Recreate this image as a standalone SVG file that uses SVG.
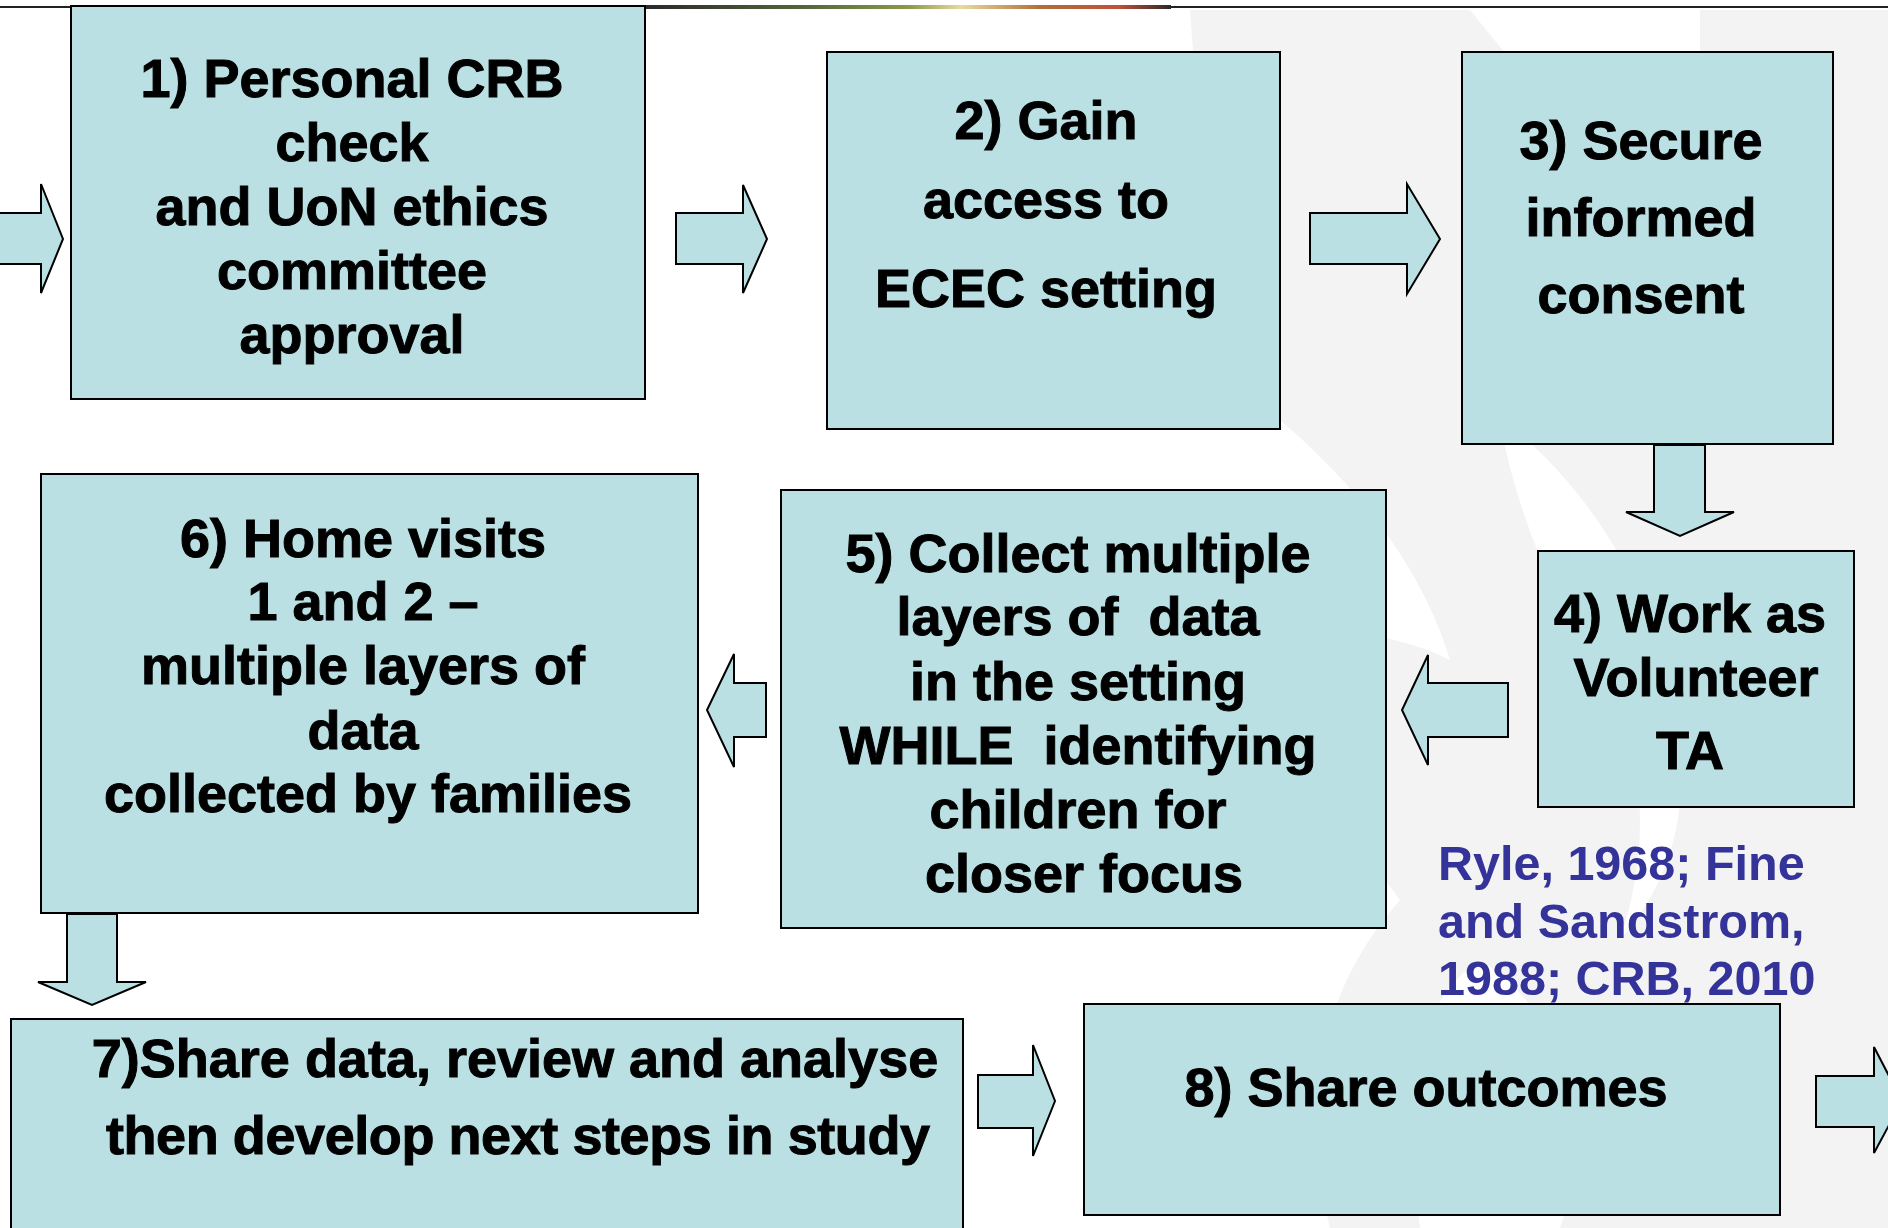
<svg xmlns="http://www.w3.org/2000/svg" width="1888" height="1228" viewBox="0 0 1888 1228">
  <defs>
    <linearGradient id="topStrip" x1="646" y1="0" x2="1171" y2="0" gradientUnits="userSpaceOnUse">
      <stop offset="0" stop-color="#2a2a2a"/>
      <stop offset="0.3" stop-color="#55643a"/>
      <stop offset="0.5" stop-color="#8a9a4a"/>
      <stop offset="0.6" stop-color="#e8d9a0"/>
      <stop offset="0.75" stop-color="#b0703a"/>
      <stop offset="0.9" stop-color="#c0503a"/>
      <stop offset="1" stop-color="#2a2a2a"/>
    </linearGradient>
    <style>
      .box { fill: #bbe0e3; stroke: #000; stroke-width: 2; }
      .arrow { fill: #bbe0e3; stroke: #000; stroke-width: 2; stroke-linejoin: miter; }
      .lbl { font-family: "Liberation Sans", Arial, sans-serif; font-weight: bold; font-size: 54px; fill: #000; stroke: #000; stroke-width: 1; text-anchor: middle; white-space: pre; }
      .cite { font-family: "Liberation Sans", Arial, sans-serif; font-weight: bold; font-size: 48.5px; fill: #333399; }
      .wm { fill: #f3f3f3; }
    </style>
  </defs>

  <rect width="1888" height="1228" fill="#ffffff"/>

  <!-- faint background emblem -->
  <g id="watermark">
    <path class="wm" d="M1190,10 L1888,10 L1888,1228 L1560,1228 C1600,1120 1560,1010 1480,960 C1420,1000 1400,1080 1420,1228 L1330,1228 C1300,1100 1320,990 1400,900 C1330,800 1200,760 1100,800 C1170,640 1330,600 1450,660 C1420,560 1350,480 1280,420 C1220,300 1200,160 1190,10 Z"/>
    <path fill="#ffffff" d="M1470,10 L1700,10 L1700,300 C1640,220 1560,120 1470,10 Z"/>
    <path fill="#ffffff" d="M1500,420 C1560,460 1620,540 1650,620 C1700,760 1690,860 1620,940 C1660,820 1640,700 1560,600 C1530,540 1510,480 1500,420 Z"/>
  </g>

  <!-- header rule -->
  <g id="header">
    <line x1="0" y1="7" x2="1888" y2="7" stroke="#222" stroke-width="2"/>
    <rect x="646" y="5" width="525" height="4" fill="url(#topStrip)"/>
  </g>

  <g id="connectors">
    <polygon class="arrow" points="-4,213 41,213 41,184 63,239 41,293 41,264 -4,264"/>
    <polygon class="arrow" points="676,213 743,213 743,185 767,239 743,293 743,264 676,264"/>
    <polygon class="arrow" points="1310,213 1407,213 1407,184 1440,239 1407,294 1407,264 1310,264"/>
    <polygon class="arrow" points="1654,445 1705,445 1705,512 1734,512 1680,536 1626,512 1654,512"/>
    <polygon class="arrow" points="1508,683 1428,683 1428,655 1402,710 1428,765 1428,737 1508,737"/>
    <polygon class="arrow" points="766,683 734,683 734,654 707,710 734,767 734,737 766,737"/>
    <polygon class="arrow" points="67,914 117,914 117,982 146,982 92,1005 38,982 67,982"/>
    <polygon class="arrow" points="978,1075 1033,1075 1033,1045 1055,1101 1033,1156 1033,1128 978,1128"/>
    <polygon class="arrow" points="1816,1076 1874,1076 1874,1047 1902,1101 1874,1153 1874,1127 1816,1127"/>
  </g>

  <g id="step1">
    <rect class="box" x="71" y="6" width="574" height="393"/>
    <text class="lbl" x="352" y="97">1) Personal CRB</text>
    <text class="lbl" x="352" y="161">check</text>
    <text class="lbl" x="352" y="225">and UoN ethics</text>
    <text class="lbl" x="352" y="289">committee</text>
    <text class="lbl" x="352" y="353">approval</text>
  </g>

  <g id="step2">
    <rect class="box" x="827" y="52" width="453" height="377"/>
    <text class="lbl" x="1046" y="139">2) Gain</text>
    <text class="lbl" x="1046" y="218">access to</text>
    <text class="lbl" x="1046" y="307">ECEC setting</text>
  </g>

  <g id="step3">
    <rect class="box" x="1462" y="52" width="371" height="392"/>
    <text class="lbl" x="1641" y="159">3) Secure</text>
    <text class="lbl" x="1641" y="236">informed</text>
    <text class="lbl" x="1641" y="313">consent</text>
  </g>

  <g id="step4">
    <rect class="box" x="1538" y="551" width="316" height="256"/>
    <text class="lbl" x="1690" y="632">4) Work as</text>
    <text class="lbl" x="1696" y="696">Volunteer</text>
    <text class="lbl" x="1690" y="769">TA</text>
  </g>

  <g id="step5">
    <rect class="box" x="781" y="490" width="605" height="438"/>
    <text class="lbl" x="1078" y="572">5) Collect multiple</text>
    <text class="lbl" x="1078" y="635">layers of  data</text>
    <text class="lbl" x="1078" y="700">in the setting</text>
    <text class="lbl" x="1078" y="764">WHILE  identifying</text>
    <text class="lbl" x="1078" y="828">children for</text>
    <text class="lbl" x="1084" y="892">closer focus</text>
  </g>

  <g id="step6">
    <rect class="box" x="41" y="474" width="657" height="439"/>
    <text class="lbl" x="363" y="557">6) Home visits</text>
    <text class="lbl" x="363" y="620">1 and 2 –</text>
    <text class="lbl" x="363" y="684">multiple layers of</text>
    <text class="lbl" x="363" y="749">data</text>
    <text class="lbl" x="368" y="812">collected by families</text>
  </g>

  <g id="step7">
    <rect class="box" x="11" y="1019" width="952" height="230"/>
    <text class="lbl" x="515" y="1077">7)Share data, review and analyse</text>
    <text class="lbl" x="518" y="1154" textLength="824">then develop next steps in study</text>
  </g>

  <g id="step8">
    <rect class="box" x="1084" y="1004" width="696" height="211"/>
    <text class="lbl" x="1426" y="1106">8) Share outcomes</text>
  </g>

  <g id="citation">
    <text class="cite" x="1438" y="880">Ryle, 1968; Fine</text>
    <text class="cite" x="1438" y="938">and Sandstrom,</text>
    <text class="cite" x="1438" y="995">1988; CRB, 2010</text>
  </g>
</svg>
